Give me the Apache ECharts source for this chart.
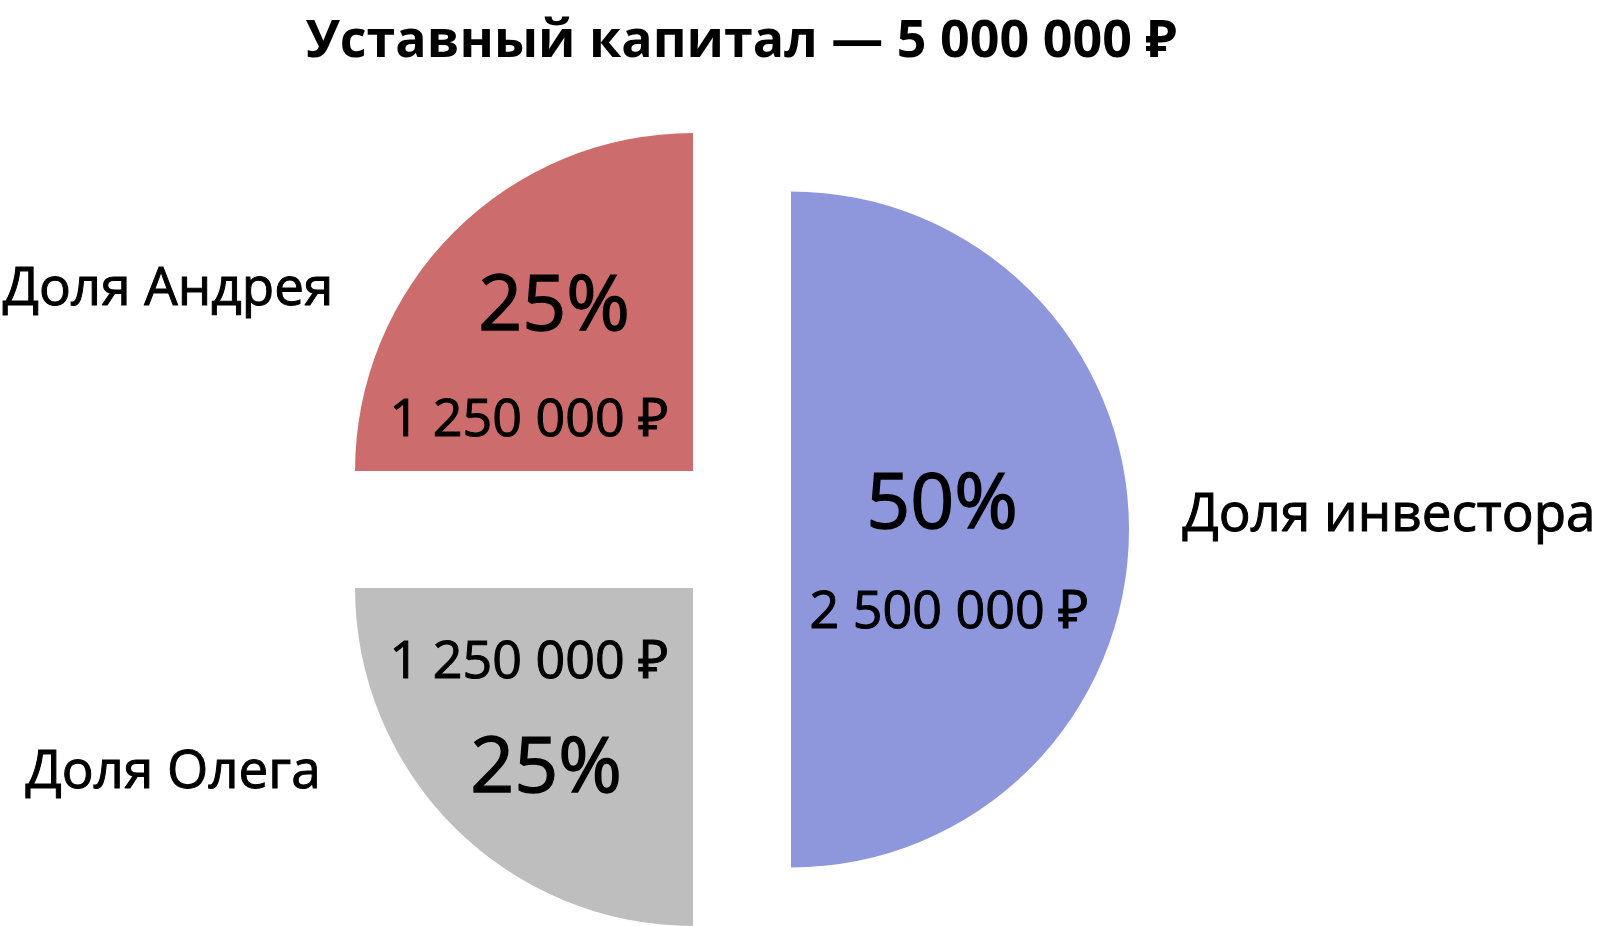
<!DOCTYPE html>
<html>
<head>
<meta charset="utf-8">
<script src="https://cdn.jsdelivr.net/npm/echarts@6/dist/echarts.min.js"></script>
<style>
  html, body { margin: 0; padding: 0; background: #ffffff; }
  #chart { width: 1600px; height: 926px; }
</style>
</head>
<body>
<div id="chart"></div>
<script>
// ---- data ----
const titleText = 'Уставный капитал — 5 000 000 ₽';
const names = ['Доля инвестора', 'Доля Андрея', 'Доля Олега'];
const shares = [50, 25, 25];                      // percent
const amounts = [2500000, 1250000, 1250000];      // rubles

// ---- style / layout ----
const colors = ['#8E97DB', '#CC6C6C', '#BEBEBE'];
const FONT = '"Open Sans", "Noto Sans", sans-serif';
const R = 338;
const baseCenter = [751.5, 529.5];
const explode = [39.5, 82.7, 82.7];
// label offsets from each slice's (exploded) apex, px
const pctOff  = [[151, -23], [-139, -163], [-147, 182]];
const amtOff  = [[158, 84],  [-164, -50],  [-164, 75]];
const nameOff = [[598, -14], [-525, -181], [-520, 185]];

function fmtMoney(v) {
  return String(v).replace(/\B(?=(\d{3})+(?!\d))/g, ' ') + ' ₽';
}

// mid angles (counter-clockwise from bottom, -90deg)
const total = shares.reduce((a, b) => a + b, 0);
const mids = [];
let acc = -90;
shares.forEach(s => { const sweep = s / total * 360; mids.push(acc + sweep / 2); acc += sweep; });
const apex = mids.map((m, i) => {
  const rad = m * Math.PI / 180;
  return [baseCenter[0] + Math.cos(rad) * explode[i], baseCenter[1] - Math.sin(rad) * explode[i]];
});

const pieBase = {
  type: 'pie',
  radius: R,
  startAngle: -90,
  clockwise: false,
  silent: true,
  animation: false,
  avoidLabelOverlap: false,
  labelLine: { show: false },
  emphasis: { disabled: true }
};

const series = [];
// visible slices: one series per slice
names.forEach((n, i) => {
  series.push(Object.assign({}, pieBase, {
    name: 'slice' + i,
    center: apex[i],
    label: { show: false },
    data: names.map((nm, j) => ({
      name: nm, value: shares[j],
      itemStyle: { color: j === i ? colors[i] : 'rgba(0,0,0,0)' }
    }))
  }));
});

function labelSeries(key, offs, fmt, fontSize, borderW) {
  return Object.assign({}, pieBase, {
    name: key,
    center: baseCenter,
    z: 10,
    itemStyle: { color: 'rgba(0,0,0,0)' },
    label: {
      show: true, position: 'inside',
      formatter: p => fmt(p.dataIndex),
      color: '#000', fontFamily: FONT, fontSize: fontSize, fontWeight: 400,
      textBorderColor: '#000', textBorderWidth: borderW
    },
    labelLayout: p => ({
      x: apex[p.dataIndex][0] + offs[p.dataIndex][0],
      y: apex[p.dataIndex][1] + offs[p.dataIndex][1],
      align: 'center', verticalAlign: 'middle'
    }),
    data: names.map((nm, j) => ({ name: nm, value: shares[j] }))
  });
}
series.push(labelSeries('pct', pctOff, i => shares[i] + '%', 77, 1.4));
series.push(labelSeries('amt', amtOff, i => fmtMoney(amounts[i]), 52, 1));
series.push(labelSeries('nm', nameOff, i => names[i], 53, 1));

const chart = echarts.init(document.getElementById('chart'), null, { renderer: 'canvas' });
chart.setOption({
  backgroundColor: '#ffffff',
  animation: false,
  title: {
    text: titleText,
    left: 736, top: 11,
    textAlign: 'center',
    textStyle: { fontFamily: FONT, fontSize: 52, fontWeight: 700, color: '#000' }
  },
  series: series
});
</script>
</body>
</html>
